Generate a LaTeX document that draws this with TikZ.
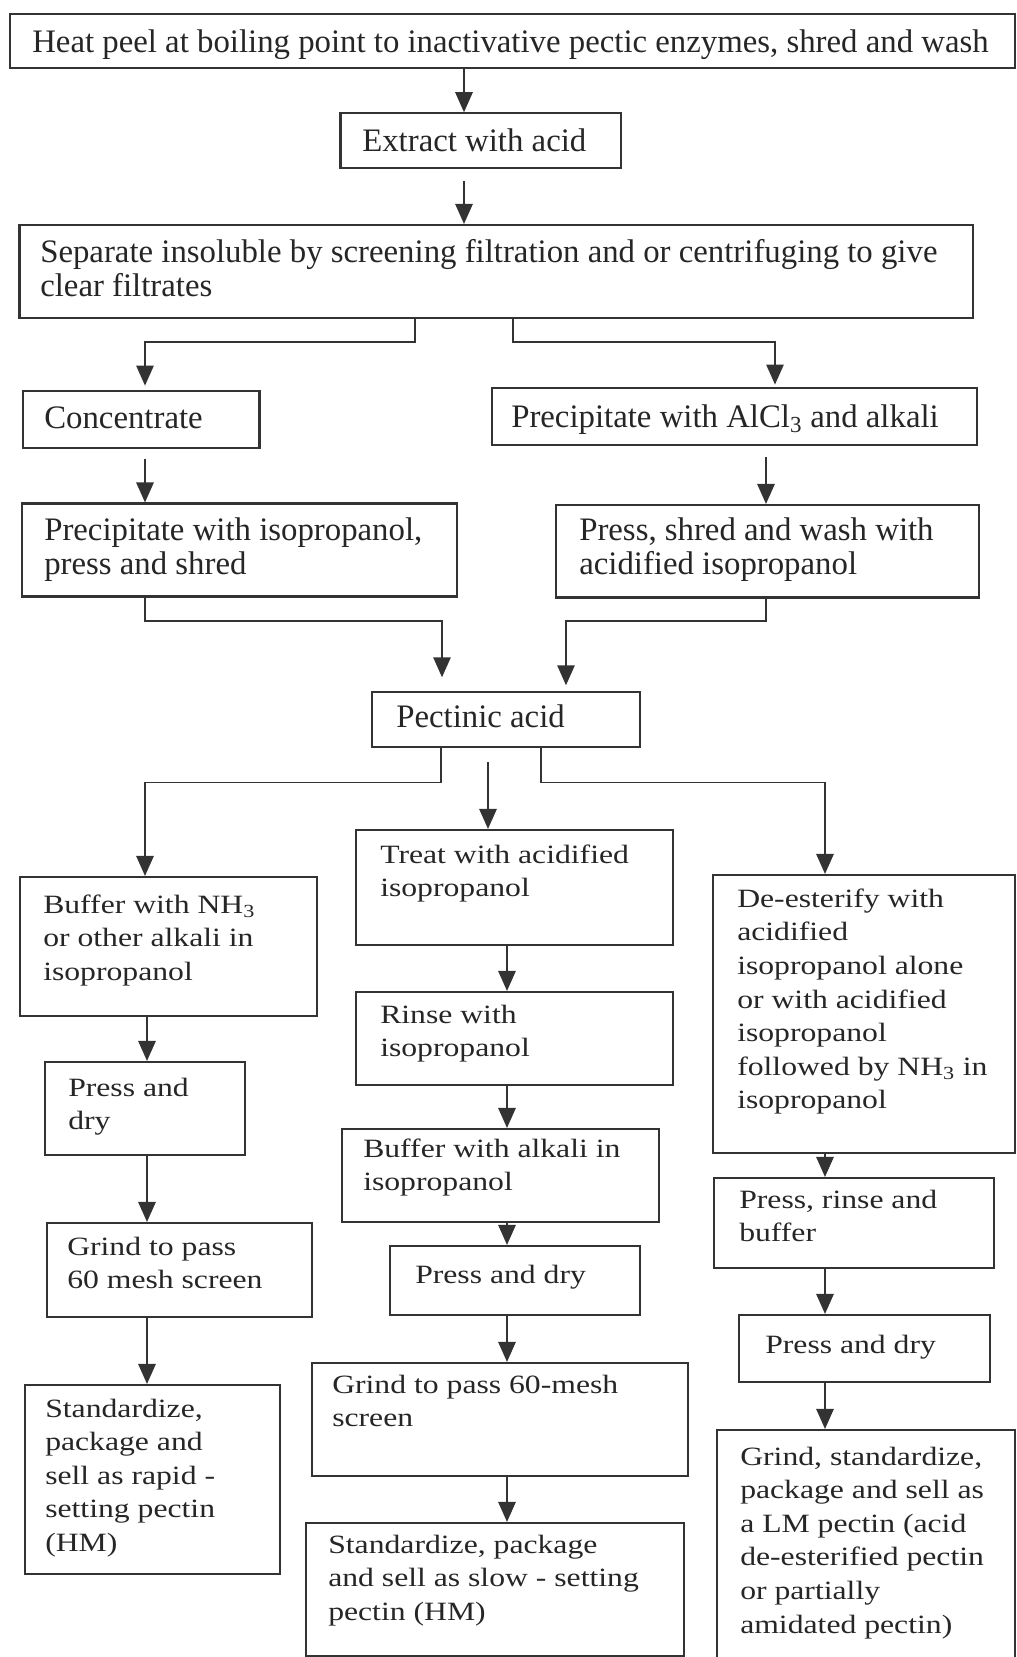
\documentclass[tikz,border=0pt]{standalone}
\usepackage{fontspec}
\setmainfont{Liberation Serif}
\newfontfamily\widefont[FakeStretch=1.2]{Liberation Serif}
\usetikzlibrary{arrows.meta,fit}
\definecolor{ink}{gray}{0.2}
\definecolor{txt}{gray}{0.15}
\begin{document}
\begin{tikzpicture}[x=0.75pt,y=-0.75pt,
  box/.style={draw=ink, line width=1.6pt, inner sep=0pt},
  up/.style={anchor=north west, inner sep=0pt, align=left, text=txt,
    font=\fontsize{24.6pt}{25.5pt}\selectfont, execute at begin node=\strut},
  low/.style={anchor=north west, inner sep=0pt, align=left, text=txt,
    font=\widefont\fontsize{19.8pt}{25.2pt}\selectfont, execute at begin node=\strut},
  arr/.style={draw=ink, line width=1.3pt, -{Triangle[length=15pt,width=13pt]}}]
\path[fill=white, use as bounding box] (0,0) rectangle (1017,1657);

% x and y reference coordinates for connectors
\coordinate (c1) at (464,0);
\coordinate (c2) at (415,0);
\coordinate (c3) at (145,0);
\coordinate (c4) at (513,0);
\coordinate (c5) at (775,0);
\coordinate (c6) at (442,0);
\coordinate (c7) at (766,0);
\coordinate (c8) at (566,0);
\coordinate (c9) at (441,0);
\coordinate (c11) at (488,0);
\coordinate (c12) at (541,0);
\coordinate (c14) at (507,0);
\coordinate (c15) at (147,0);
\coordinate (c16) at (825,0);
\coordinate (h1) at (0,342);
\coordinate (h2) at (0,621);
\coordinate (h3) at (0,782.5);

% upper boxes
\node[box, fit={(9.7,14) (1015,68)}] (top) {};
\node[up] (top-t) at (32,28.2) {Heat peel at boiling point to inactivative pectic enzymes, shred and wash};
\node[box, fit={(340.5,113.3) (621.3,168.3)}] (ext) {};
\node[up] (ext-t) at (362,127.8) {Extract with acid};
\node[box, fit={(19.5,225) (972.8,318.3)}] (sep) {};
\node[up] (sep-t) at (40,239.2) {Separate insoluble by screening filtration and or centrifuging to give\\clear filtrates};
\node[box, fit={(22.8,390.7) (259.5,448.3)}] (conc) {};
\node[up] (conc-t) at (44,404.2) {Concentrate};
\node[box, fit={(492,388.3) (977,445)}] (alcl) {};
\node[up] (alcl-t) at (511,403.2) {Precipitate with AlCl\textsubscript{3} and alkali};
\node[box, fit={(22,503.5) (456.6,596.5)}] (pi) {};
\node[up] (pi-t) at (44,517.2) {Precipitate with isopropanol,\\press and shred};
\node[box, fit={(556,505) (979,597.5)}] (ps) {};
\node[up] (ps-t) at (579,517.2) {Press, shred and wash with\\acidified isopropanol};
\node[box, fit={(372,691.7) (640,746.7)}] (pect) {};
\node[up] (pect-t) at (396,703.2) {Pectinic acid};

% left column
\node[box, fit={(20,877) (317,1016)}] (bnh) {};
\node[low] (bnh-t) at (43,894.5) {Buffer with NH\textsubscript{3}\\or other alkali in\\isopropanol};
\node[box, fit={(45,1062) (245,1155)}] (pdl) {};
\node[low] (pdl-t) at (68,1077.5) {Press and\\dry};
\node[box, fit={(47,1223) (312,1317)}] (g60l) {};
\node[low] (g60l-t) at (67,1236.5) {Grind to pass\\60 mesh screen};
\node[box, fit={(25,1385) (280,1574)}] (stdl) {};
\node[low] (stdl-t) at (45,1398.5) {Standardize,\\package and\\sell as rapid -\\setting pectin\\(HM)};

% centre column
\node[box, fit={(356,830) (673,945)}] (treat) {};
\node[low] (treat-t) at (380,844.5) {Treat with acidified\\isopropanol};
\node[box, fit={(356,992) (673,1085)}] (rinse) {};
\node[low] (rinse-t) at (380,1004.5) {Rinse with\\isopropanol};
\node[box, fit={(342,1129) (659,1222)}] (balk) {};
\node[low] (balk-t) at (363,1138.5) {Buffer with alkali in\\isopropanol};
\node[box, fit={(390,1246) (640,1315)}] (pdc) {};
\node[low] (pdc-t) at (415,1259.5) {Press and dry};
\node[box, fit={(312,1363) (688,1476)}] (g60c) {};
\node[low] (g60c-t) at (332,1374.5) {Grind to pass 60-mesh\\screen};
\node[box, fit={(306,1523) (684,1656)}] (stdc) {};
\node[low] (stdc-t) at (328,1534.5) {Standardize, package\\and sell as slow - setting\\pectin (HM)};

% right column
\node[box, fit={(713,875) (1015,1153)}] (dee) {};
\node[low] (dee-t) at (737,888.5) {De-esterify with\\acidified\\isopropanol alone\\or with acidified\\isopropanol\\followed by NH\textsubscript{3} in\\isopropanol};
\node[box, fit={(714,1178) (994,1268)}] (prb) {};
\node[low] (prb-t) at (739,1189.5) {Press, rinse and\\buffer};
\node[box, fit={(739,1315) (990,1382)}] (pdr) {};
\node[low] (pdr-t) at (765,1329.5) {Press and dry};
\node[box, fit={(717,1430) (1015,1660)}] (gs) {};
\node[low] (gs-t) at (740,1446.5) {Grind, standardize,\\package and sell as\\a LM pectin (acid\\de-esterified pectin\\or partially\\amidated pectin)};

% connectors, upper part
\draw[arr] (top.south -| c1) -- (ext.north -| c1);
\draw[arr, shorten <=9pt] (ext.south -| c1) -- (sep.north -| c1);
\draw[arr, shorten >=3pt] (sep.south -| c2) -- (c2 |- h1) -- (c3 |- h1) -- (conc.north -| c3);
\draw[arr, shorten >=2pt] (sep.south -| c4) -- (c4 |- h1) -- (c5 |- h1) -- (alcl.north -| c5);
\draw[arr, shorten <=7pt] (conc.south -| c3) -- (pi.north -| c3);
\draw[arr, shorten <=8pt] (alcl.south -| c7) -- (ps.north -| c7);
\draw[arr, shorten >=10pt] (pi.south -| c3) -- (c3 |- h2) -- (c6 |- h2) -- (pect.north -| c6);
\draw[arr, shorten >=4pt] (ps.south -| c7) -- (c7 |- h2) -- (c8 |- h2) -- (pect.north -| c8);

% branches from pectinic acid
\draw[arr] (pect.south -| c9) -- (c9 |- h3) -- (c3 |- h3) -- (bnh.north -| c3);
\draw[arr, shorten <=11pt] (pect.south -| c11) -- (treat.north -| c11);
\draw[arr] (pect.south -| c12) -- (c12 |- h3) -- (c16 |- h3) -- (dee.north -| c16);

% left chain
\draw[arr] (bnh.south -| c15) -- (pdl.north -| c15);
\draw[arr] (pdl.south -| c15) -- (g60l.north -| c15);
\draw[arr] (g60l.south -| c15) -- (stdl.north -| c15);

% centre chain
\draw[arr] (treat.south -| c14) -- (rinse.north -| c14);
\draw[arr] (rinse.south -| c14) -- (balk.north -| c14);
\draw[arr] (balk.south -| c14) -- (pdc.north -| c14);
\draw[arr] (pdc.south -| c14) -- (g60c.north -| c14);
\draw[arr] (g60c.south -| c14) -- (stdc.north -| c14);

% right chain
\draw[arr] (dee.south -| c16) -- (prb.north -| c16);
\draw[arr] (prb.south -| c16) -- (pdr.north -| c16);
\draw[arr] (pdr.south -| c16) -- (gs.north -| c16);
\end{tikzpicture}
\end{document}
